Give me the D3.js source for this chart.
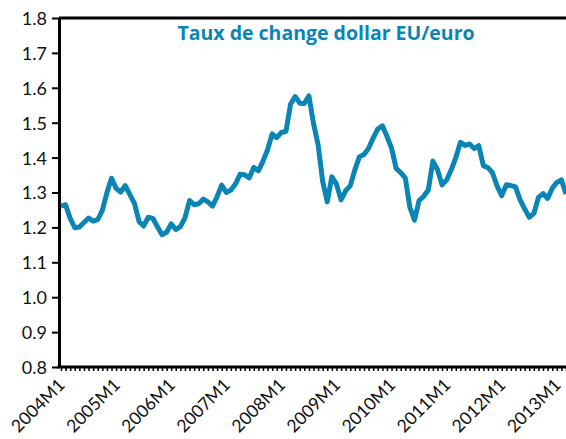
<!DOCTYPE html>
<html>
<head>
<meta charset="utf-8">
<script src="https://cdn.jsdelivr.net/npm/d3@7"></script>
<style>
  body { margin: 0; background: #fff; }
  svg { display: block; }
</style>
</head>
<body>
<figure id="chart" style="margin:0"></figure>
<script>
// monthly average, dollars per euro
const years = [2004, 2005, 2006, 2007, 2008, 2009, 2010, 2011, 2012, 2013];
const rates = [
  1.261, 1.265, 1.226, 1.199, 1.201, 1.214, 1.227, 1.218, 1.222, 1.249, 1.299, 1.341,
  1.312, 1.301, 1.320, 1.294, 1.269, 1.217, 1.204, 1.229, 1.226, 1.202, 1.179, 1.186,
  1.210, 1.194, 1.202, 1.227, 1.277, 1.265, 1.268, 1.281, 1.273, 1.261, 1.288, 1.321,
  1.300, 1.307, 1.324, 1.352, 1.351, 1.342, 1.372, 1.362, 1.390, 1.423, 1.468, 1.457,
  1.472, 1.475, 1.553, 1.575, 1.556, 1.555, 1.577, 1.498, 1.437, 1.332, 1.273, 1.345,
  1.324, 1.279, 1.305, 1.319, 1.365, 1.402, 1.409, 1.427, 1.456, 1.482, 1.491, 1.461,
  1.427, 1.369, 1.357, 1.341, 1.257, 1.221, 1.277, 1.289, 1.307, 1.390, 1.366, 1.322,
  1.336, 1.365, 1.400, 1.444, 1.435, 1.439, 1.426, 1.434, 1.377, 1.371, 1.356, 1.318,
  1.291, 1.322, 1.320, 1.316, 1.279, 1.253, 1.229, 1.240, 1.286, 1.297, 1.283, 1.312,
  1.329, 1.336, 1.296
];
const yTicks = [0.8, 0.9, 1.0, 1.1, 1.2, 1.3, 1.4, 1.5, 1.6, 1.7, 1.8];
const title = 'Taux de change dollar EU/euro';

const width = 566, height = 439;
const margin = {top: 18, right: 0, bottom: 72, left: 59};
const blue = '#0a85b4';

const svg = d3.select('#chart')
  .append('svg')
  .attr('width', width)
  .attr('height', height);

const months = rates.map((d, i) => i);
const x = d3.scaleLinear().domain([0, 110]).range([61, 566]);
const y = d3.scaleLinear().domain([0.8, 1.8]).range([367, 18]);

// y axis
const yAxis = svg.append('g')
  .attr('transform', 'translate(' + margin.left + ',0)')
  .call(d3.axisLeft(y).tickValues(yTicks).tickSize(7).tickSizeOuter(0).tickFormat(d3.format('.1f')));
yAxis.select('.domain').attr('stroke', '#000').attr('stroke-width', 3);
yAxis.selectAll('.tick line').attr('stroke', '#000').attr('stroke-width', 2);
yAxis.selectAll('.tick text')
  .attr('x', -12)
  .attr('dy', '0.36em')
  .style('font-family', 'Lato, "Open Sans", sans-serif')
  .style('font-size', '18px')
  .attr('fill', '#111');

// top border
svg.append('line')
  .attr('x1', margin.left).attr('x2', width)
  .attr('y1', y(1.8)).attr('y2', y(1.8))
  .attr('stroke', '#000').attr('stroke-width', 3);

// x axis
const xAxis = svg.append('g')
  .attr('transform', 'translate(0,' + y(0.8) + ')')
  .call(d3.axisBottom(x).tickValues(months).tickSize(4).tickSizeOuter(0).tickFormat(''));
xAxis.select('.domain').attr('stroke', '#000').attr('stroke-width', 3)
  .attr('d', 'M' + (margin.left - 1.5) + ',0H' + width);
xAxis.selectAll('.tick line').attr('stroke', '#000').attr('stroke-width', 1.5);

svg.append('g')
  .selectAll('text')
  .data(years)
  .join('text')
  .attr('transform', (d, i) => 'translate(' + (x(i * 12) + 5) + ',' + (y(0.8) + 19) + ') rotate(-45)')
  .attr('text-anchor', 'end')
  .style('font-family', 'Lato, "Open Sans", sans-serif')
  .style('font-size', '17.5px')
  .attr('fill', '#111')
  .text(d => d + 'M1');

// series
const line = d3.line()
  .x((d, i) => x(i))
  .y(d => y(d));

svg.append('path')
  .datum(rates)
  .attr('fill', 'none')
  .attr('stroke', blue)
  .attr('stroke-width', 5)
  .attr('stroke-linejoin', 'round')
  .attr('d', line);

svg.append('text')
  .attr('x', 326)
  .attr('y', 40)
  .attr('text-anchor', 'middle')
  .style('font-family', '"Open Sans", "Noto Sans", sans-serif')
  .style('font-weight', 'bold')
  .style('font-size', '19.5px')
  .attr('fill', blue)
  .text(title);
</script>
</body>
</html>
